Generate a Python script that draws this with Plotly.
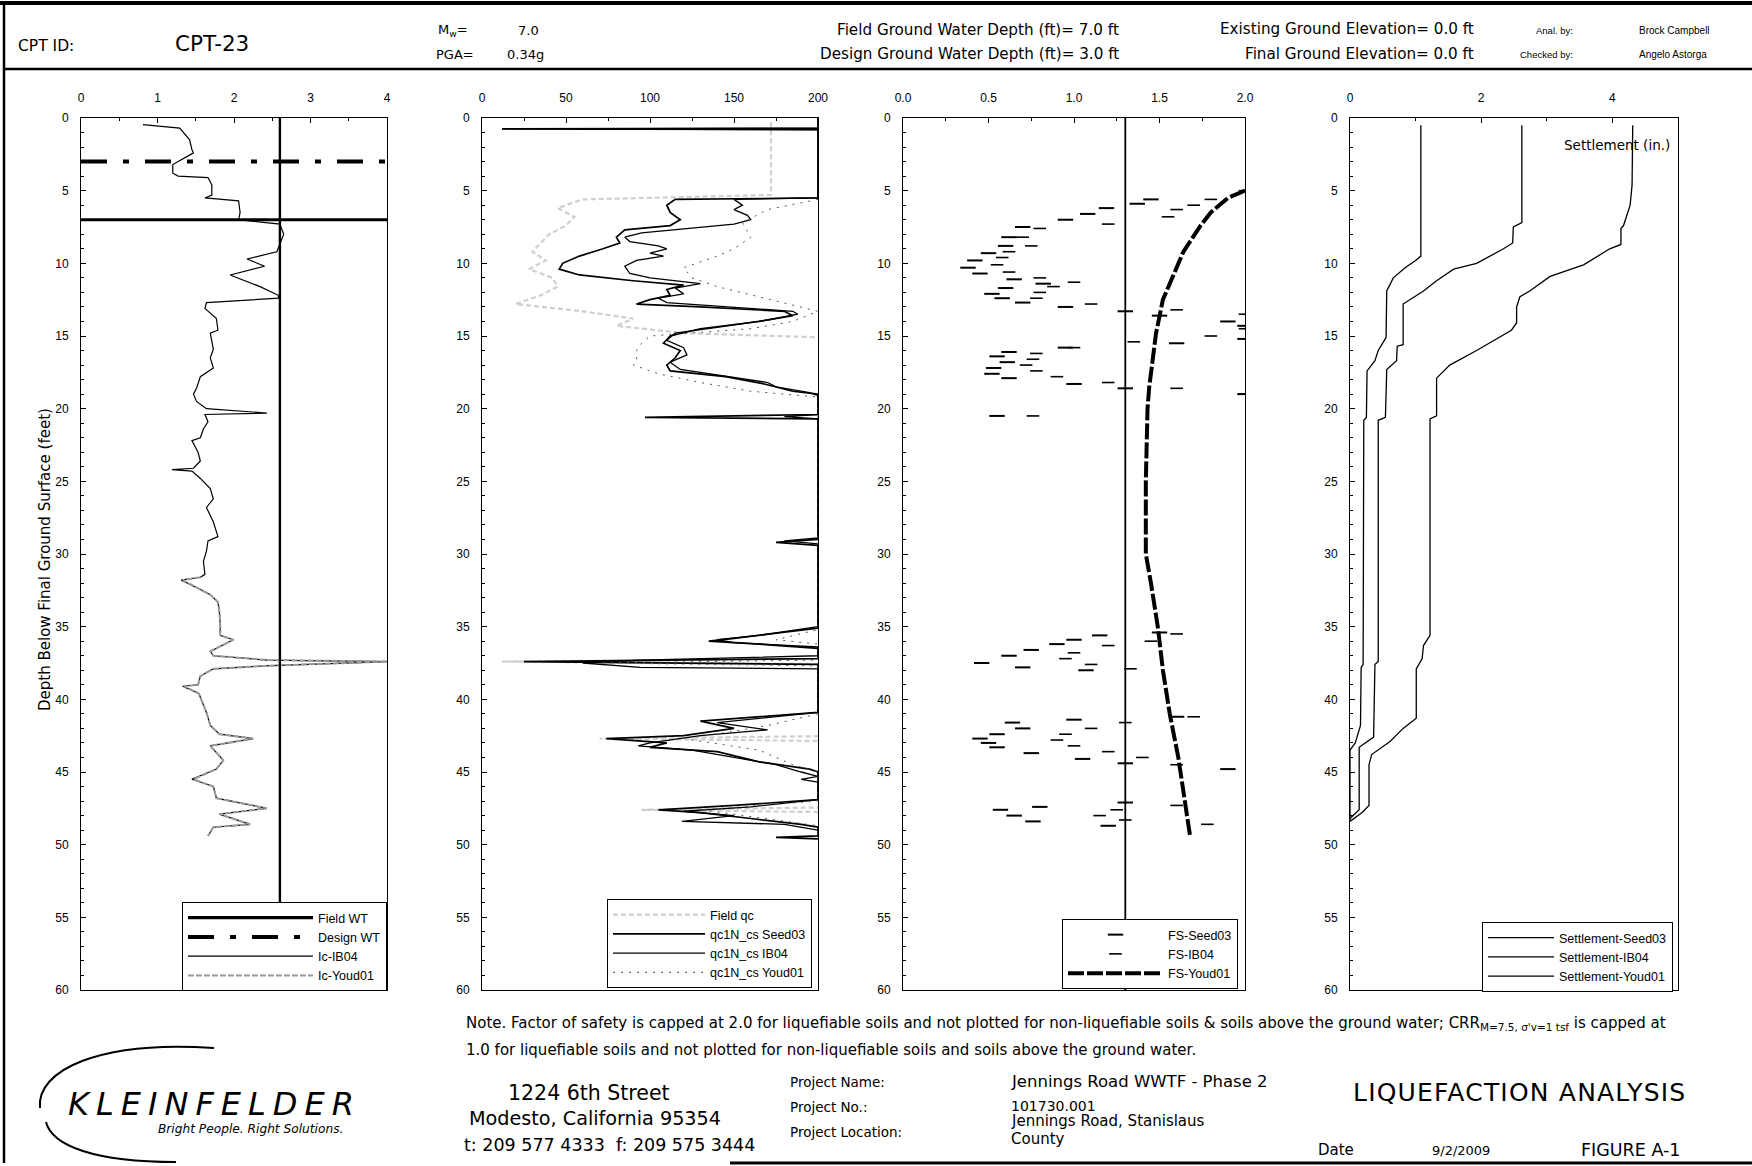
import plotly.graph_objects as go

W, H = 1752, 1166
FONT = "Liberation Sans, Arial, sans-serif"
WIDE = "DejaVu Sans, Verdana, sans-serif"

# ---------------- Panel 1: soil behaviour type index Ic ----------------
IC_DEPTH = [0.46, 0.69, 1.5, 2.18, 2.4, 2.87, 3.2, 3.8, 4.0, 4.1, 4.6, 5.3, 5.5, 5.7, 6.5, 7.0,
            7.3, 8.0, 8.6, 9.2, 9.7, 10.2, 10.8, 11.6, 12.2, 12.4, 12.7, 13.1, 13.8, 14.6, 14.8,
            15.9, 16.5, 17.2, 17.8, 18.6, 19.0, 19.5, 20.0, 20.3, 20.4, 20.9, 21.4, 22.0, 22.2,
            23.0, 23.6, 24.1, 24.2, 24.3, 24.8, 25.5, 26.2, 26.8, 27.8, 28.8, 29.1, 29.8, 30.5,
            31.4, 31.6, 31.8, 32.3, 32.8, 33.3, 34.0, 34.9, 35.6, 35.9, 36.7, 37.0, 37.3, 37.4,
            37.7, 37.9, 38.4, 39.0, 39.1, 39.6, 40.9, 41.8, 42.4, 42.7, 43.2, 44.2, 44.8, 45.5,
            46.0, 46.8, 47.5, 47.9, 48.6, 48.8, 49.4]
IC_IB04 = [0.81, 1.29, 1.42, 1.45, 1.47, 1.31, 1.20, 1.20, 1.27, 1.66, 1.71, 1.71, 1.62, 2.06, 2.08, 2.06,
           2.60, 2.65, 2.60, 2.56, 2.17, 2.40, 1.95, 2.34, 2.58, 2.58, 1.64, 1.62, 1.77, 1.79, 1.69,
           1.73, 1.69, 1.73, 1.56, 1.51, 1.47, 1.51, 1.64, 2.43, 1.62, 1.66, 1.60, 1.56, 1.45,
           1.53, 1.56, 1.47, 1.19, 1.45, 1.56, 1.69, 1.73, 1.64, 1.73, 1.79, 1.66, 1.64, 1.60,
           1.62, 1.56, 1.31, 1.51, 1.69, 1.79, 1.81, 1.82, 1.82, 1.99, 1.69, 1.73, 2.43, 4.00,
           2.40, 1.73, 1.56, 1.53, 1.33, 1.54, 1.64, 1.69, 1.81, 2.25, 1.69, 1.86, 1.77, 1.45,
           1.73, 1.77, 2.43, 1.81, 2.21, 1.73, 1.66]
IC_YOUD_DEPTH = [31.6, 31.8, 32.3, 32.8, 33.3, 34.0, 34.9, 35.6, 35.9, 36.7, 37.0, 37.3, 37.4, 37.7,
                 37.9, 38.4, 39.0, 39.1, 39.6, 40.9, 41.8, 42.4, 42.7, 43.2, 44.2, 44.8, 45.5, 46.0,
                 46.8, 47.5, 47.9, 48.6, 48.8, 49.4]
IC_YOUD = [1.56, 1.33, 1.51, 1.69, 1.79, 1.81, 1.82, 1.82, 1.99, 1.69, 1.73, 2.45, 4.00, 2.40,
           1.73, 1.56, 1.53, 1.35, 1.54, 1.64, 1.69, 1.81, 2.25, 1.69, 1.86, 1.77, 1.47, 1.73,
           1.77, 2.43, 1.81, 2.21, 1.73, 1.66]
IC_LIMIT = 2.6
FIELD_WT = 7.0
DESIGN_WT = 3.0

# ---------------- Panel 2: cone tip resistance ----------------
FIELD_QC_DEPTH = [0.3, 5.3, 5.6, 6.2, 6.8, 7.4, 8.0, 8.6, 9.2, 9.8, 10.4, 11.0, 11.6, 12.2, 12.8,
                  13.3, 13.8, 14.3, 14.8, 15.2, 37.2, 37.4, 37.6, 42.5, 42.7, 42.9, 47.4, 47.6, 47.8]
FIELD_QC = [172, 172, 60, 45, 55, 50, 40, 35, 30, 38, 28, 42, 45, 35, 20,
            60, 90, 80, 120, 230, 230, 12, 230, 230, 70, 230, 230, 95, 230]

QC_SEED_DEPTH = [0.0, 0.7, 0.75, 0.8, 5.5, 5.6, 6.0, 6.5, 7.0, 7.4, 7.7, 8.2, 8.6, 9.0, 9.5, 10.0,
                 10.4, 10.8, 11.2, 11.5, 11.8, 12.2, 12.5, 12.8, 13.0, 13.3, 13.6, 14.0, 14.5, 15.0,
                 15.5, 16.0, 16.5, 17.0, 17.4, 17.8, 18.3, 18.8, 19.0, 20.4, 20.6, 20.7, 29.0, 29.2,
                 29.4, 35.1, 35.8, 36.0, 36.2, 36.5, 37.2, 37.4, 37.6, 40.9, 41.5, 42.0, 42.5, 42.7,
                 43.0, 43.3, 43.6, 44.3, 44.8, 45.0, 46.9, 47.3, 47.6, 47.8, 48.2, 48.6, 48.8, 49.4,
                 49.5, 49.6]
QC_SEED = [200, 200, 12, 200, 200, 115, 110, 112, 118, 112, 85, 80, 82, 72, 58, 48,
           46, 58, 90, 120, 110, 112, 100, 92, 130, 180, 185, 165, 130, 112,
           108, 118, 115, 110, 112, 145, 168, 185, 200, 200, 97, 200, 200, 175,
           200, 200, 150, 135, 165, 200, 200, 25, 200, 200, 130, 150, 120, 74,
           110, 100, 140, 165, 195, 200, 200, 150, 105, 130, 160, 190, 200, 200,
           175, 200]

QC_IB_DEPTH = [0.0, 0.7, 0.75, 0.8, 5.5, 5.6, 6.0, 6.3, 6.7, 7.0, 7.3, 7.6, 7.9, 8.2, 8.5, 8.8,
               9.0, 9.3, 9.5, 9.8, 10.2, 10.7, 11.0, 11.4, 11.7, 12.1, 12.4, 12.7, 13.0, 13.3,
               13.5, 13.9, 14.4, 14.8, 15.3, 15.8, 16.3, 16.8, 17.3, 17.7, 18.2, 18.5, 18.9, 19.1,
               20.4, 20.55, 20.7, 28.9, 29.1, 29.3, 35.0, 35.6, 35.9, 36.1, 36.4, 37.0, 37.3, 37.5,
               37.8, 37.9, 40.9, 41.6, 42.1, 42.5, 43.0, 43.2, 43.5, 44.0, 44.5, 45.0, 45.3, 45.5,
               45.7, 46.9, 47.4, 47.7, 48.0, 48.4, 48.6, 49.0]
QC_IB = [200, 200, 12, 200, 200, 150, 155, 150, 158, 160, 150, 120, 95, 85, 88, 105,
         110, 100, 108, 92, 85, 88, 100, 130, 115, 120, 105, 110, 150, 185,
         188, 170, 140, 115, 110, 120, 122, 112, 118, 140, 170, 175, 195, 200,
         200, 180, 200, 200, 180, 200, 200, 165, 140, 150, 200, 200, 94, 60,
         94, 200, 200, 140, 170, 130, 100, 93, 125, 150, 175, 190, 200, 190,
         200, 200, 160, 120, 150, 119, 180, 200]

QC_YOUD_DEPTH = [5.6, 6.3, 7.2, 8.2, 9.0, 9.5, 10.3, 11.0, 11.6, 12.3, 12.7, 13.3, 14.0, 14.5,
                 15.0, 15.5, 16.0, 16.6, 17.0, 17.6, 18.2, 18.8, 19.2, 35.2, 35.9, 36.2, 37.3,
                 37.5, 37.7, 41.0, 41.8, 42.2, 42.7, 43.5, 44.5, 45.0, 47.0, 47.6, 48.3, 48.7]
QC_YOUD = [200, 170, 155, 160, 150, 140, 120, 125, 140, 165, 180, 200, 185, 160,
           100, 95, 92, 92, 90, 105, 130, 160, 200, 200, 175, 200, 200,
           70, 200, 200, 170, 150, 120, 165, 185, 200, 200, 130, 175, 200]

# ---------------- Panel 3: factor of safety ----------------
FS_SEED_DEPTH = [5.6, 5.9, 6.2, 6.6, 7.0, 7.5, 8.2, 8.8, 9.3, 9.8, 10.3, 10.7, 11.1, 11.4, 11.7,
                 12.1, 12.4, 12.7, 13.0, 13.3, 13.6, 14.0, 14.3, 15.2, 15.5, 15.8, 16.1, 16.4,
                 16.8, 17.2, 17.6, 17.9, 18.3, 18.6, 19.0, 20.5,
                 35.4, 35.6, 35.9, 36.2, 36.6, 37.0, 37.5, 37.8, 38.0,
                 41.2, 41.4, 41.6, 42.0, 42.4, 42.7, 43.0, 43.3, 43.7, 44.1, 44.4, 44.8,
                 47.1, 47.4, 47.6, 48.0, 48.4, 48.7]
FS_SEED = [1.45, 1.37, 1.19, 1.08, 0.95, 0.70, 0.62, 0.60, 0.50, 0.42, 0.38, 0.45, 0.65, 0.82, 0.60,
           0.52, 0.58, 0.70, 0.95, 1.30, 1.50, 1.90, 2.00, 2.00, 1.60, 0.95, 0.62, 0.55,
           0.61, 0.53, 0.52, 0.62, 1.00, 1.30, 2.00, 0.55,
           1.50, 1.15, 1.00, 0.90, 0.75, 0.62, 0.46, 0.70, 1.07,
           1.60, 1.00, 0.64, 0.70, 0.55, 0.45, 0.50, 0.55, 0.75, 1.05, 1.30, 1.90,
           1.30, 0.80, 0.57, 0.65, 0.76, 1.20]
FS_IB_DEPTH = [5.0, 5.6, 6.0, 6.3, 6.8, 7.3, 7.6, 8.2, 8.8, 9.2, 9.6, 10.1, 10.6, 11.0, 11.3, 11.6,
               12.0, 12.4, 12.8, 13.2, 13.5, 14.5, 15.0, 15.4, 15.8, 16.2, 16.6, 17.0, 17.4, 17.8,
               18.2, 18.6, 19.0, 20.5,
               35.5, 36.0, 36.3, 36.8, 37.2, 37.6, 37.9,
               41.2, 41.6, 42.0, 42.4, 42.8, 43.2, 43.6, 44.0, 44.5,
               47.3, 47.6, 48.0, 48.3, 48.6]
FS_IB = [2.00, 1.80, 1.70, 1.60, 1.55, 1.20, 0.80, 0.70, 0.75, 0.62, 0.58, 0.55, 0.62, 0.80, 1.00, 0.88,
         0.80, 0.78, 1.10, 1.60, 2.00, 2.00, 1.80, 1.35, 1.00, 0.78, 0.76, 0.72, 0.78, 0.90,
         1.20, 1.60, 2.00, 0.76,
         1.60, 1.45, 1.20, 1.00, 0.95, 1.10, 1.33,
         1.70, 1.30, 1.10, 0.95, 0.90, 1.00, 1.20, 1.40, 1.60,
         1.60, 1.25, 1.15, 1.30, 1.78]
FS_YOUD_DEPTH = [5.0, 5.5, 6.5, 7.4, 9.2, 12.5, 14.8, 18.5, 20.0, 25.0, 29.0, 30.0, 32.0, 35.0,
                 38.0, 41.0, 44.0, 47.0, 49.5]
FS_YOUD = [2.00, 1.90, 1.80, 1.74, 1.64, 1.52, 1.48, 1.44, 1.43, 1.42, 1.42, 1.42, 1.45, 1.49,
           1.52, 1.56, 1.61, 1.65, 1.68]
FS_LIMIT = 1.3

# ---------------- Panel 4: cumulative settlement ----------------
SET_SEED_DEPTH = [0.5, 9.5, 9.8, 10.3, 11.0, 11.9, 15.1, 16.0, 16.7, 17.4, 20.6, 20.8, 37.6, 37.8,
                  41.8, 42.5, 43.0, 43.5, 48.3]
SET_SEED = [1.08, 1.08, 1.00, 0.84, 0.66, 0.56, 0.55, 0.43, 0.38, 0.26, 0.25, 0.21, 0.20, 0.17,
            0.16, 0.12, 0.08, 0.00, 0.00]
SET_IB_DEPTH = [0.5, 7.2, 7.5, 8.6, 9.0, 10.0, 10.4, 11.2, 11.9, 12.8, 15.6, 15.7, 16.7, 17.3, 20.6,
                20.8, 37.4, 37.6, 42.6, 43.3, 47.6, 48.2]
SET_IB = [2.62, 2.62, 2.49, 2.48, 2.34, 1.93, 1.58, 1.32, 1.12, 0.81, 0.81, 0.72, 0.71, 0.56, 0.54,
          0.43, 0.43, 0.38, 0.36, 0.14, 0.14, 0.00]
SET_YOUD_DEPTH = [0.5, 4.6, 6.0, 7.4, 7.6, 8.7, 9.0, 10.1, 10.9, 11.9, 12.3, 13.0, 14.1, 14.6, 16.0,
                  17.0, 17.9, 20.5, 20.7, 35.6, 36.3, 37.2, 37.9, 41.3, 42.0, 42.9, 43.8, 44.5,
                  47.3, 47.8, 48.4]
SET_YOUD = [4.31, 4.30, 4.27, 4.17, 4.13, 4.13, 3.96, 3.56, 3.05, 2.74, 2.59, 2.54, 2.54, 2.46, 1.93,
            1.52, 1.32, 1.32, 1.22, 1.22, 1.12, 1.10, 1.01, 1.01, 0.81, 0.61, 0.33, 0.29,
            0.29, 0.18, 0.00]

DEPTH_MAX = 60
DEPTH_TICKS = list(range(0, 61, 5))

# panel pixel extents (left, right) and common top / bottom
PANELS = [(81, 387), (482, 818), (903, 1245), (1350, 1678)]
TOP_PX, BOT_PX = 118, 990
X_RANGES = [(0, 4), (0, 200), (0, 2), (0, 5)]
X_TICKS = [[0, 1, 2, 3, 4], [0, 50, 100, 150, 200], [0, 0.5, 1.0, 1.5, 2.0], [0, 2, 4]]
X_TICKTEXT = [["0", "1", "2", "3", "4"], ["0", "50", "100", "150", "200"],
              ["0.0", "0.5", "1.0", "1.5", "2.0"], ["0", "2", "4"]]
X_MINOR = [0.5, 25, 0.25, 1]


def fx(px):
    return px / W


def fy(py):
    return 1 - py / H


fig = go.Figure()

# ---- panel 1 traces ----
fig.add_trace(go.Scatter(x=[0, 4], y=[FIELD_WT, FIELD_WT], mode="lines", name="Field WT",
                         line=dict(color="black", width=3.2), xaxis="x", yaxis="y", legend="legend"))
fig.add_trace(go.Scatter(x=[0, 4], y=[DESIGN_WT, DESIGN_WT], mode="lines", name="Design WT",
                         line=dict(color="black", width=4, dash="26px,16px,6px,16px"),
                         xaxis="x", yaxis="y", legend="legend"))
fig.add_trace(go.Scatter(x=IC_IB04, y=IC_DEPTH, mode="lines", name="Ic-IB04",
                         line=dict(color="black", width=1.2), xaxis="x", yaxis="y", legend="legend"))
fig.add_trace(go.Scatter(x=IC_YOUD, y=IC_YOUD_DEPTH, mode="lines", name="Ic-Youd01",
                         line=dict(color="#9a9a9a", width=2, dash="6px,2px"),
                         xaxis="x", yaxis="y", legend="legend"))
fig.add_trace(go.Scatter(x=[IC_LIMIT, IC_LIMIT], y=[0, DEPTH_MAX], mode="lines", showlegend=False,
                         line=dict(color="black", width=2.4), xaxis="x", yaxis="y", hoverinfo="skip"))

# ---- panel 2 traces ----
fig.add_trace(go.Scatter(x=FIELD_QC, y=FIELD_QC_DEPTH, mode="lines", name="Field qc",
                         line=dict(color="#cfcfcf", width=2.2, dash="5px,3px"),
                         xaxis="x2", yaxis="y2", legend="legend2"))
fig.add_trace(go.Scatter(x=QC_SEED, y=QC_SEED_DEPTH, mode="lines", name="qc1N_cs Seed03",
                         line=dict(color="black", width=1.7), xaxis="x2", yaxis="y2", legend="legend2"))
fig.add_trace(go.Scatter(x=QC_IB, y=QC_IB_DEPTH, mode="lines", name="qc1N_cs IB04",
                         line=dict(color="black", width=1.3), xaxis="x2", yaxis="y2", legend="legend2"))
fig.add_trace(go.Scatter(x=QC_YOUD, y=QC_YOUD_DEPTH, mode="lines", name="qc1N_cs Youd01",
                         line=dict(color="#555555", width=1, dash="2px,6px"),
                         xaxis="x2", yaxis="y2", legend="legend2"))

# ---- panel 3 traces ----
fig.add_trace(go.Scatter(x=[FS_LIMIT, FS_LIMIT], y=[0, DEPTH_MAX], mode="lines", showlegend=False,
                         line=dict(color="black", width=1.8), xaxis="x3", yaxis="y3", hoverinfo="skip"))
fig.add_trace(go.Scatter(x=FS_SEED, y=FS_SEED_DEPTH, mode="markers", name="FS-Seed03",
                         marker=dict(symbol="line-ew", size=11, line=dict(color="black", width=2)),
                         xaxis="x3", yaxis="y3", legend="legend3"))
fig.add_trace(go.Scatter(x=FS_IB, y=FS_IB_DEPTH, mode="markers", name="FS-IB04",
                         marker=dict(symbol="line-ew", size=9, line=dict(color="black", width=1.6)),
                         xaxis="x3", yaxis="y3", legend="legend3"))
fig.add_trace(go.Scatter(x=FS_YOUD, y=FS_YOUD_DEPTH, mode="lines", name="FS-Youd01",
                         line=dict(color="black", width=4, dash="16px,3px"),
                         xaxis="x3", yaxis="y3", legend="legend3"))

# ---- panel 4 traces ----
fig.add_trace(go.Scatter(x=SET_SEED, y=SET_SEED_DEPTH, mode="lines", name="Settlement-Seed03",
                         line=dict(color="black", width=1.3), xaxis="x4", yaxis="y4", legend="legend4"))
fig.add_trace(go.Scatter(x=SET_IB, y=SET_IB_DEPTH, mode="lines", name="Settlement-IB04",
                         line=dict(color="black", width=1.3), xaxis="x4", yaxis="y4", legend="legend4"))
fig.add_trace(go.Scatter(x=SET_YOUD, y=SET_YOUD_DEPTH, mode="lines", name="Settlement-Youd01",
                         line=dict(color="black", width=1.3), xaxis="x4", yaxis="y4", legend="legend4"))

layout = dict(
    width=W, height=H, margin=dict(l=0, r=0, t=0, b=0),
    paper_bgcolor="white", plot_bgcolor="white",
    font=dict(family=FONT, color="black", size=12),
    showlegend=True, hovermode=False,
)

for i, ((l, r), rng, tv, tt, mn) in enumerate(zip(PANELS, X_RANGES, X_TICKS, X_TICKTEXT, X_MINOR), start=1):
    sfx = "" if i == 1 else str(i)
    layout["xaxis" + sfx] = dict(
        domain=[fx(l), fx(r)], range=list(rng), side="top", anchor="y" + sfx,
        tickvals=tv, ticktext=tt, ticks="inside", ticklen=5, tickcolor="black",
        minor=dict(dtick=mn, ticks="inside", ticklen=3, tickcolor="black"),
        showline=True, linecolor="black", linewidth=1, mirror=True,
        showgrid=False, zeroline=False, automargin=False, ticklabelstandoff=10,
        tickfont=dict(size=12, family=FONT),
    )
    layout["yaxis" + sfx] = dict(
        domain=[fy(BOT_PX), fy(TOP_PX)], range=[DEPTH_MAX, 0], anchor="x" + sfx,
        tickvals=DEPTH_TICKS, ticks="inside", ticklen=5, tickcolor="black",
        minor=dict(dtick=1, ticks="inside", ticklen=3, tickcolor="black"),
        showline=True, linecolor="black", linewidth=1, mirror=True,
        showgrid=False, zeroline=False, automargin=False, ticklabelstandoff=9,
        tickfont=dict(size=12, family=FONT),
    )

LEGEND_BOX = {"legend": (387, 991), "legend2": (812, 988), "legend3": (1238, 989), "legend4": (1673, 992)}
LEGEND_ITEMW = {"legend": 125, "legend2": 92, "legend3": 95, "legend4": 66}
for key, (rx, by) in LEGEND_BOX.items():
    layout[key] = dict(
        x=fx(rx), y=fy(by), xanchor="right", yanchor="bottom",
        bgcolor="white", bordercolor="black", borderwidth=1,
        font=dict(size=12.5, family=FONT), itemwidth=LEGEND_ITEMW[key], tracegroupgap=0,
        traceorder="normal",
    )

fig.update_layout(**layout)


def note(x, y, text, size=13, anchor="left", family=WIDE, **kw):
    fig.add_annotation(x=fx(x), y=fy(y), xref="paper", yref="paper", text=text, showarrow=False,
                       xanchor=anchor, yanchor="middle", font=dict(size=size, family=family, color="black"),
                       **kw)


# header block
note(16, 46, "CPT ID:", 15.5)
note(173, 44, "CPT-23", 21.5)
note(436, 30, "M<sub>w</sub>=", 13)
note(516, 30, "7.0", 13)
note(434, 54, "PGA=", 13)
note(505, 54, "0.34g", 13)
note(1121, 30, "Field Ground Water Depth (ft)= 7.0 ft", 15.2, anchor="right")
note(1121, 54, "Design Ground Water Depth (ft)= 3.0 ft", 15.2, anchor="right")
note(1476, 29, "Existing Ground Elevation= 0.0 ft", 15.2, anchor="right")
note(1476, 54, "Final Ground Elevation= 0.0 ft", 15.2, anchor="right")
note(1575, 31, "Anal. by:", 9.5, anchor="right", family=FONT)
note(1575, 55, "Checked by:", 9.5, anchor="right", family=FONT)
note(1637, 30, "Brock Campbell", 10, family=FONT)
note(1637, 54, "Angelo Astorga", 10, family=FONT)

# axis title shared by the depth axes
fig.add_annotation(x=fx(34), y=fy(560), xref="paper", yref="paper", text="Depth Below Final Ground Surface (feet)",
                   showarrow=False, textangle=-90, font=dict(size=15, family=WIDE, color="black"))
# settlement panel label
note(1672, 145, "Settlement (in.)", 13.5, anchor="right")

# footer notes
note(464, 1023, "Note. Factor of safety is capped at 2.0 for liquefiable soils and not plotted for non-liquefiable "
                "soils &amp; soils above the ground water; CRR<sub>M=7.5, σ'v=1 tsf</sub> is capped at", 15)
note(464, 1050, "1.0 for liquefiable soils and not plotted for non-liquefiable soils and soils above the ground water.", 15)

fig.add_annotation(x=fx(66), y=fy(1104), xref="paper", yref="paper", xanchor="left", yanchor="middle",
                   text="<i><span style='letter-spacing:7px'>KLEINFELDER</span></i>", showarrow=False,
                   font=dict(size=32, family=WIDE, color="black"))
fig.add_annotation(x=fx(156), y=fy(1129), xref="paper", yref="paper", xanchor="left", yanchor="middle",
                   text="<i>Bright People. Right Solutions.</i>",
                   showarrow=False, font=dict(size=12.2, family=WIDE, color="black"))

note(589, 1093, "1224 6th Street", 20.5, anchor="center")
note(595, 1118, "Modesto, California 95354", 19.2, anchor="center")
note(609, 1145, "t: 209 577 4333  f: 209 575 3444", 17.5, anchor="center")

note(788, 1082, "Project Name:", 13.5)
note(788, 1107, "Project No.:", 13.5)
note(788, 1132, "Project Location:", 13.5)
note(1009, 1081, "Jennings Road WWTF - Phase 2", 16.5)
note(1009, 1106, "101730.001", 14)
note(1009, 1121, "Jennings Road, Stanislaus", 15)
note(1009, 1139, "County", 15)
fig.add_annotation(x=fx(1519), y=fy(1092), xref="paper", yref="paper", xanchor="center", yanchor="middle",
                   text="<span style='letter-spacing:1.2px'>LIQUEFACTION ANALYSIS</span>", showarrow=False,
                   font=dict(size=25, family=WIDE, color="black"))
note(1316, 1150, "Date", 15)
note(1430, 1150, "9/2/2009", 13)
note(1682, 1150, "FIGURE A-1", 17.5, anchor="right")


def seg(x0, y0, x1, y1, w):
    fig.add_shape(type="line", xref="paper", yref="paper", x0=fx(x0), y0=fy(y0), x1=fx(x1), y1=fy(y1),
                  line=dict(color="black", width=w))


# page frame
seg(0, 3, W, 3, 4)
seg(4, 3, 4, 1163, 2.5)
seg(4, 69, W, 69, 2.5)
seg(730, 1163, W, 1163, 3)


def pt(x, y):
    return f"{fx(x):.5f},{fy(y):.5f}"


# logo swooshes
fig.add_shape(type="path", xref="paper", yref="paper",
              path=f"M {pt(40, 1108)} C {pt(36, 1070)} {pt(100, 1040)} {pt(214, 1048)}",
              line=dict(color="black", width=2))
fig.add_shape(type="path", xref="paper", yref="paper",
              path=f"M {pt(46, 1122)} C {pt(52, 1146)} {pt(95, 1162)} {pt(176, 1162)}",
              line=dict(color="black", width=2))

fig.write_html("out.html")
